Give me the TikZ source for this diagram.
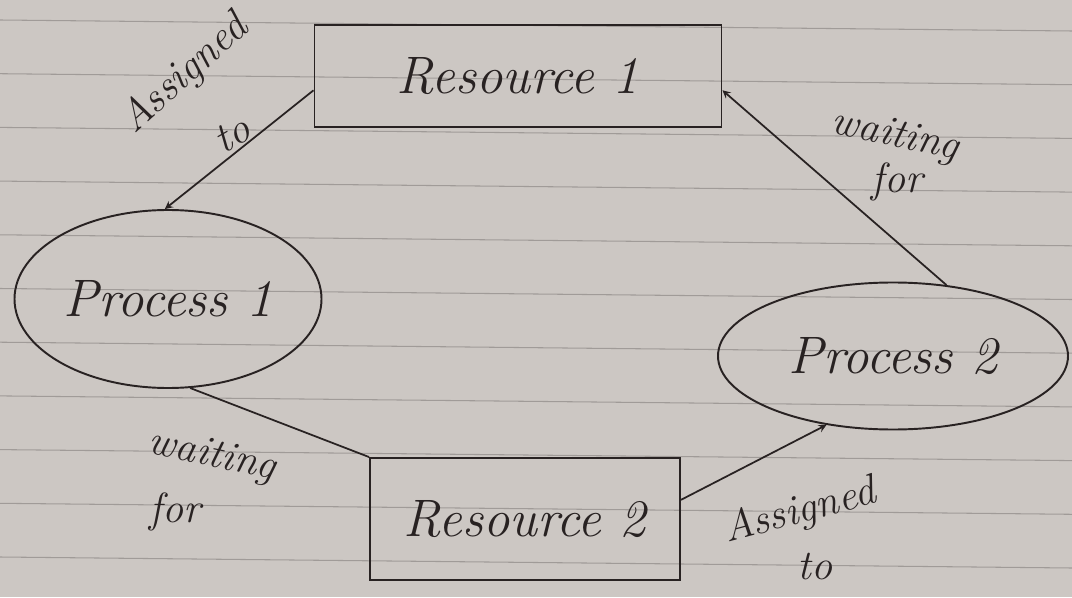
\documentclass[tikz,border=0pt]{standalone}
\usetikzlibrary{shapes.geometric}

\definecolor{paper}{RGB}{204,199,195}
\definecolor{rule}{RGB}{160,155,152}
\definecolor{ink}{RGB}{40,34,34}

\begin{document}
\begin{tikzpicture}[
    box/.style={draw=ink, line width=1.1pt, rectangle, inner sep=0pt, text=ink, font=\fontsize{30}{34}\selectfont\itshape},
    blob/.style={draw=ink, line width=1.1pt, ellipse, inner sep=0pt, text=ink, font=\fontsize{30}{34}\selectfont\itshape},
    lbl/.style={text=ink, inner sep=1pt, font=\fontsize{24}{28}\selectfont\itshape},
    link/.style={draw=ink, line width=1pt},
    >=stealth
]

\fill[paper] (0,0) rectangle (21.44,11.94);
\useasboundingbox (0,0) rectangle (21.44,11.94);
\foreach \k in {0,...,10}
    \draw[rule, line width=0.6pt] (0,11.54-1.074*\k) -- (21.44,11.32-1.074*\k);

\node[box, minimum width=8.14cm, minimum height=2.04cm] (r1) at (10.36,10.42) {Resource 1};
\node[box, minimum width=6.2cm, minimum height=2.44cm] (r2) at (10.5,1.56) {Resource 2};
\node[blob, minimum width=6.14cm, minimum height=3.56cm] (p1) at (3.36,5.96) {\makebox[0pt]{Process 1}};
\node[blob, minimum width=7cm, minimum height=2.94cm] (p2) at (17.86,4.82) {\makebox[0pt]{Process 2}};

\draw[link,->] (r1.184) -- (p1.92);
\draw[link,->] (p2.53) -- (r1.-4);
\draw[link] (p1.-76) -- (r2.north west);
\draw[link,->] (r2.7) -- (p2.226);

\node[lbl, rotate=42] (a1) at (3.7,10.45) {Assigned};
\node[lbl, rotate=30] (t1) at (4.65,9.25) {to};
\node[lbl, rotate=-12] (w2) at (17.9,9.2) {waiting};
\node[lbl] (f2) at (17.95,8.3) {for};
\node[lbl, rotate=-12] (w1) at (4.24,2.8) {waiting};
\node[lbl] (f1) at (3.5,1.7) {for};
\node[lbl, rotate=15] (a2) at (16.0,1.7) {Assigned};
\node[lbl] (t2) at (16.3,0.6) {to};

\end{tikzpicture}
\end{document}
